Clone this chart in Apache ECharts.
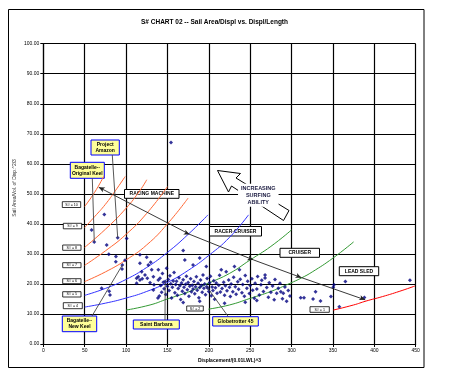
<!DOCTYPE html>
<html>
<head>
<meta charset="utf-8">
<script src="https://cdn.jsdelivr.net/npm/echarts@6/dist/echarts.min.js"></script>
<style>
  html, body { margin: 0; padding: 0; background: #fff; }
  #chart { width: 455px; height: 376px; }
</style>
</head>
<body>
<div id="chart"></div>
<script>
// 坐标轴刻度
var xTicks = [0, 50, 100, 150, 200, 250, 300, 350, 400, 450];
var yTicks = [0, 10, 20, 30, 40, 50, 60, 70, 80, 90, 100];

// S# 曲线 (D/L, SA/D)
var sn10 = [[50, 45.8], [62, 50.5], [73, 55.8]];
var sn9 = [[50, 38.8], [62, 42.4], [75, 46.5], [87, 51], [99, 55.8]];
var sn8 = [[50, 32.2], [75, 38.2], [100, 45.2], [117, 51.2], [125, 54.7]];
var sn7 = [[50, 26.2], [75, 31], [100, 36.5], [125, 43.5], [150, 52.4]];
var sn6 = [[50, 20.8], [75, 24], [100, 28], [125, 33], [150, 40], [175, 48.6]];
var sn5 = [[50, 16.2], [75, 18.5], [100, 21.5], [125, 25.5], [150, 30.5], [175, 36.5], [199, 43]];
var sn4 = [[50, 12.3], [75, 13.6], [100, 15.3], [125, 17.5], [150, 20.5], [175, 24.5], [200, 29.5], [225, 35.5], [248, 43]];
var sn3 = [[100, 11.3], [129, 13], [150, 15], [175, 17.3], [199, 20.2], [225, 23.5], [250, 28], [275, 32.5], [300, 38]];
var sn2 = [[199.4, 11.6], [225, 13], [250, 15.2], [275, 17.5], [298, 20.2], [312, 22], [325, 24], [350, 28.6], [375, 34]];
var sn1 = [[350.4, 11.3], [375, 13], [390, 14.3], [410, 15.8], [430, 17.5], [449, 19.3]];

// 冲浪能力箭头线
var surfLine = [[67, 52.2], [177, 36.5], [254, 28], [312, 22.1], [389, 14.7]];

// 船只数据点
var boats = [
  [58.4, 38.0], [61.6, 34.0], [73.7, 43.1], [76.6, 33.0], [79.2, 29.9], [87.8, 29.1], [87.6, 27.4],
  [89.9, 35.4], [100.8, 35.1], [95.5, 26.3], [95.2, 25.0], [98.7, 27.9], [70.5, 18.6], [79.6, 17.6],
  [80.6, 16.3], [116.8, 29.7], [124.9, 28.9], [154.3, 67.1],
  [112.8, 20.2], [112.8, 21.9], [114.8, 22.4], [116.8, 21.3], [116.8, 26.9], [118.9, 24.1], [119.6, 21.7],
  [122.9, 23.0], [125.7, 21.9], [126.9, 26.3], [129.0, 20.4], [129.8, 27.2], [131.0, 24.7], [133.0, 22.4],
  [133.0, 18.0], [133.8, 19.7], [139.0, 21.3], [139.0, 24.7], [140.2, 16.0], [138.5, 15.3],
  [141, 21.9], [142, 19.5], [143, 17.2], [144, 23.5], [145, 20.6], [146, 18.4], [147.3, 20.8], [148, 16.5],
  [149, 25.2], [150, 19.2], [151, 21.5], [152, 17.8], [153, 22.7], [154, 20.1], [155, 15.3], [156, 18.9],
  [157, 21.0], [158, 23.8], [159, 17.1], [160, 19.8],
  [161, 20.9], [162, 16.2], [163, 18.5], [164, 22.1], [165, 19.4], [166, 14.8], [167, 20.3], [168, 17.6],
  [169, 31.1], [169, 21.4], [169, 13.8], [170, 18.9], [171, 28.0], [171, 16.8], [172, 19.9], [173, 22.6],
  [174, 18.1], [175, 20.5], [176, 15.9], [177, 19.2], [178, 21.7], [179, 17.4], [180, 19.6],
  [181, 26.3], [181, 18.3], [182, 20.8], [183, 16.7], [184, 19.1], [185, 22.4], [186, 17.9], [187, 20.2],
  [188, 15.4], [189, 28.6], [189, 18.8], [189, 14.2], [190, 21.3], [191, 19.5], [192, 17.2], [193, 23.0],
  [194, 18.6], [195, 20.0], [196, 16.4], [197, 25.8], [197.5, 19.1], [198, 21.8], [199, 18.6], [200, 17.5],
  [201, 20.4], [202, 22.6], [203, 16.1], [204, 19.0], [205, 17.8], [206, 21.1], [207, 14.9], [208, 18.7],
  [209, 20.3], [210, 16.9], [212, 19.6], [213, 22.9], [214, 17.3], [215, 24.7], [216, 18.5], [218, 20.6],
  [219, 16.2], [219, 13.6], [220, 19.4], [221, 24.1], [222, 17.7], [224, 21.3], [225, 18.9],
  [226, 15.8], [227, 20.0], [229, 17.4], [230, 22.2], [231, 25.8], [232, 19.1], [233, 16.6], [235, 20.7],
  [236, 18.2], [237, 24.7], [238, 21.6], [240, 17.1], [241, 19.8], [243, 15.9], [244, 22.8], [244, 13.9],
  [246, 18.6], [247, 20.9], [249, 16.8], [250, 19.5], [252, 21.7], [253, 17.9], [255, 15.2], [256, 20.2],
  [258, 18.3], [258, 14.5], [259, 22.5],
  [261, 16.3], [263, 19.7], [264, 21.2], [266, 17.5], [268, 23.0], [268, 22.0], [270, 18.8], [272, 15.6],
  [273, 20.4], [275, 17.2], [277, 19.3], [279, 14.7], [280, 21.5], [282, 16.9], [284, 18.6], [286, 20.2],
  [287, 17.4], [289, 15.1], [290, 16.9], [292, 19.0], [294, 14.2], [296, 17.8], [298, 16.0],
  [311, 15.4], [315, 15.4], [326, 15.0], [329, 17.4], [335, 14.3], [347.6, 15.8], [350.4, 18.9],
  [351.3, 19.7], [365, 20.8], [388, 15.5], [357.7, 12.4], [443, 21.2]
];

var font = 'Arial, "Liberation Sans", sans-serif';

function curve(data, color) {
  return {
    type: 'line',
    data: data,
    smooth: true,
    showSymbol: false,
    silent: true,
    z: 2,
    lineStyle: { color: color, width: 1 }
  };
}

var chart = echarts.init(document.getElementById('chart'));

var option = {
  animation: false,
  grid: { left: 43.3, top: 43.7, width: 372.4, height: 300.3 },
  xAxis: {
    type: 'value',
    min: xTicks[0],
    max: xTicks[xTicks.length - 1],
    interval: xTicks[1] - xTicks[0],
    axisLine: { show: true, lineStyle: { color: '#000', width: 1.2 } },
    axisTick: { show: true, length: 3, lineStyle: { color: '#000' } },
    axisLabel: { fontSize: 5, color: '#000', margin: 4, fontFamily: font },
    splitLine: { show: true, lineStyle: { color: '#000', width: 1.2 } },
    name: 'Displacement/(0.01LWL)^3',
    nameLocation: 'middle',
    nameGap: 13,
    nameTextStyle: { fontSize: 5, fontWeight: 'bold', color: '#000', fontFamily: font }
  },
  yAxis: {
    type: 'value',
    min: yTicks[0],
    max: yTicks[yTicks.length - 1],
    interval: yTicks[1] - yTicks[0],
    axisLine: { show: true, lineStyle: { color: '#000', width: 1.2 } },
    axisTick: { show: true, length: 3, lineStyle: { color: '#000' } },
    axisLabel: {
      fontSize: 5, color: '#000', margin: 4, fontFamily: font,
      formatter: function (v) { return v.toFixed(2); }
    },
    splitLine: { show: true, lineStyle: { color: '#000', width: 1.2 } }
  },
  series: [
    curve(sn10, '#FF6633'), curve(sn9, '#FF6633'), curve(sn8, '#FF6633'),
    curve(sn7, '#FF6633'), curve(sn6, '#FF6633'),
    curve(sn5, '#3333FF'), curve(sn4, '#3333FF'),
    curve(sn3, '#339933'), curve(sn2, '#339933'),
    curve(sn1, '#FF0000'),
    {
      type: 'scatter',
      data: boats,
      symbol: 'diamond',
      symbolSize: 4,
      z: 3,
      itemStyle: { color: '#000080' }
    },
    {
      type: 'line',
      data: surfLine.map(function (p, i) {
        return { value: p, symbolRotate: i === 0 ? 63 : -112 };
      }),
      symbol: 'arrow',
      symbolSize: [4, 6],
      showSymbol: true,
      z: 4,
      lineStyle: { color: '#222', width: 0.9 },
      itemStyle: { color: '#222' }
    }
  ]
};

chart.setOption(option);

function px(p) { return chart.convertToPixel({ xAxisIndex: 0, yAxisIndex: 0 }, p); }

// 标注框
function box(x, y, w, h, text, opt) {
  opt = opt || {};
  return {
    type: 'group',
    z: 100,
    children: [
      {
        type: 'rect',
        shape: { x: x, y: y, width: w, height: h },
        style: { fill: opt.fill || '#fff', stroke: opt.stroke || '#000', lineWidth: opt.lw || 1 }
      },
      {
        type: 'text',
        x: x + w / 2, y: y + h / 2,
        style: {
          text: text,
          textAlign: 'center', textVerticalAlign: 'middle',
          fontSize: opt.fs || 5, fontWeight: opt.bold === false ? 'normal' : 'bold',
          fontFamily: font, fill: opt.color || '#000', lineHeight: opt.lh || 6
        }
      }
    ]
  };
}

function leader(from, target) {
  var t = px(target);
  return {
    type: 'line', z: 90,
    shape: { x1: from[0], y1: from[1], x2: t[0], y2: t[1] },
    style: { stroke: '#444', lineWidth: 0.9 }
  };
}

var yellow = { fill: '#FFFF99', stroke: '#0000FF', lw: 1 };
var snBox = { fs: 3.6, lw: 0.8, bold: false };

var graphics = [
  // 外框
  {
    type: 'rect', z: 0,
    shape: { x: 8.5, y: 9.5, width: 415.5, height: 358 },
    style: { fill: 'none', stroke: '#000', lineWidth: 1 }
  },
  // 标题
  {
    type: 'text', x: 214.5, y: 22.5,
    style: {
      text: 'S# CHART 02 -- Sail Area/Displ vs. Displ/Length',
      textAlign: 'center', textVerticalAlign: 'middle',
      fontSize: 6.5, fontWeight: 'bold', fontFamily: font, fill: '#000'
    }
  },
  // Y 轴名称
  {
    type: 'text', x: 15, y: 188, rotation: Math.PI / 2,
    style: {
      text: 'Sail Area/Vol. of Disp.^2/3',
      textAlign: 'center', textVerticalAlign: 'middle',
      fontSize: 5, fontFamily: font, fill: '#333'
    }
  },
  // 引线
  leader([112.3, 155], [89.9, 35.4]),
  leader([92.3, 178.3], [61.6, 34.0]),
  leader([92, 316], [95.5, 26.3]),
  leader([165, 320], [147.3, 20.8]),
  leader([228.3, 316.7], [197.5, 19.1]),
  // 冲浪箭头
  {
    type: 'polygon', z: 95,
    shape: {
      points: [[217.5, 170.5], [240.5, 173.5], [236, 178], [289, 210.5], [283.5, 220.5], [231.5, 186], [228.5, 192]]
    },
    style: { fill: '#fff', stroke: '#000', lineWidth: 1 }
  },
  {
    type: 'text', z: 96, x: 258.3, y: 195.3,
    style: {
      text: 'INCREASING\nSURFING\nABILITY',
      textAlign: 'center', textVerticalAlign: 'middle',
      fontSize: 5.5, fontWeight: 'bold', fontFamily: font, fill: '#1a1a40',
      lineHeight: 7, backgroundColor: '#fff', padding: [1, 3]
    }
  },
  box(91, 140, 28.3, 15, 'Project\nAmazon', yellow),
  box(70.3, 162.3, 34, 16, 'Bagatelle--\nOriginal Keel', yellow),
  box(62.3, 316, 34.4, 15.7, 'Bagatelle--\nNew Keel', yellow),
  box(133.3, 320, 46, 9, 'Saint Barbara', yellow),
  box(212.7, 316.7, 45.6, 9.3, 'Globetrotter 45', yellow),
  box(124.5, 189.5, 54.5, 8.8, 'RACING MACHINE'),
  box(209.5, 226.5, 52, 9.5, 'RACER-CRUISER'),
  box(280, 248.3, 39.5, 9, 'CRUISER'),
  box(339.3, 266.7, 39.4, 9, 'LEAD SLED'),
  box(62.3, 201.7, 18.4, 5.8, 'S# = 10', snBox),
  box(63.3, 223.3, 18.4, 5.5, 'S# = 9', snBox),
  box(62.7, 245, 18.3, 5.3, 'S# = 8', snBox),
  box(62.7, 262.7, 18.3, 5, 'S# = 7', snBox),
  box(62.7, 278.7, 18.3, 5, 'S# = 6', snBox),
  box(62.7, 291.7, 18.3, 5.3, 'S# = 5', snBox),
  box(63.3, 302.7, 19, 6, 'S# = 4', snBox),
  box(186.7, 306, 16.6, 5, 'S# = 2', snBox),
  box(310, 306.7, 19.3, 5.6, 'S# = 1', snBox)
];

chart.setOption({ graphic: graphics });
</script>
</body>
</html>
